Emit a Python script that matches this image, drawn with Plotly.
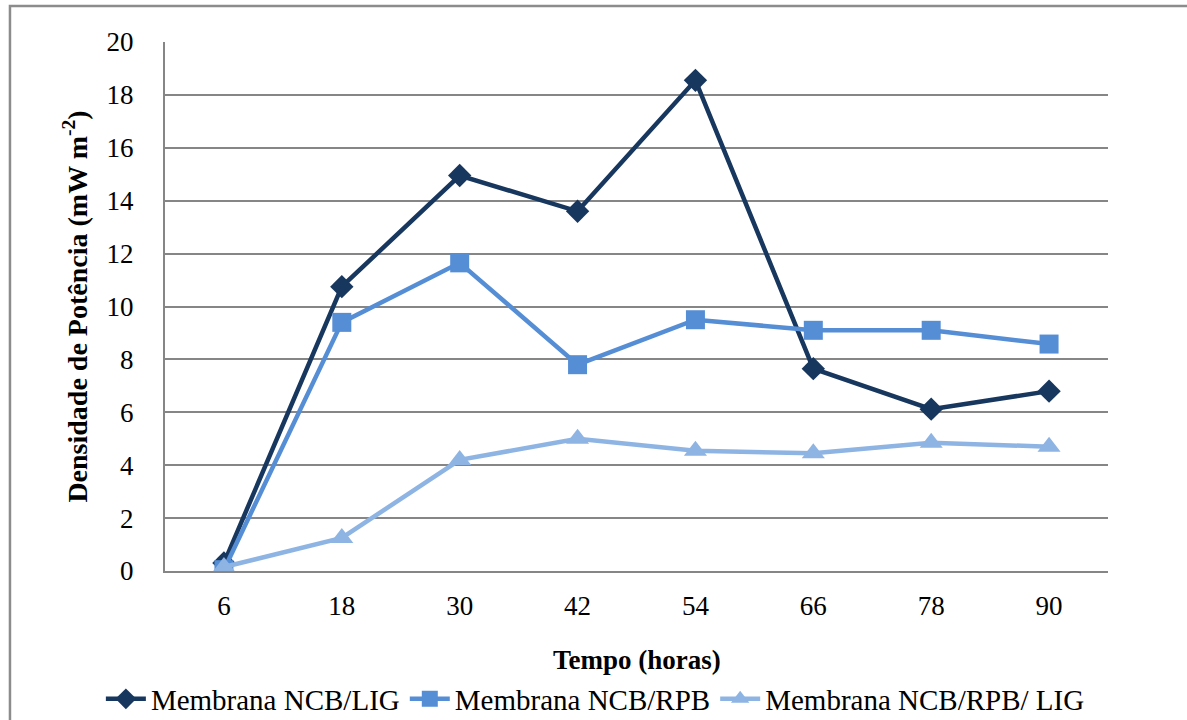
import plotly.graph_objects as go

# Sampling times (hours) and power density (mW m^-2) for each membrane
tempo = ["6", "18", "30", "42", "54", "66", "78", "90"]
ncb_lig = [0.3, 10.75, 14.95, 13.6, 18.55, 7.65, 6.12, 6.8]
ncb_rpb = [0.05, 9.4, 11.65, 7.8, 9.5, 9.1, 9.1, 8.58]
ncb_rpb_lig = [0.15, 1.25, 4.2, 5.0, 4.55, 4.45, 4.85, 4.7]

y_ticks = [0, 2, 4, 6, 8, 10, 12, 14, 16, 18, 20]

FONT = "Liberation Serif"
GRID = "#868686"

series = [
    ("Membrana NCB/LIG", ncb_lig, "#17375E", "diamond", 18),
    ("Membrana NCB/RPB", ncb_rpb, "#558ED5", "square", 19),
    ("Membrana NCB/RPB/ LIG", ncb_rpb_lig, "#8EB4E3", "triangle-up", 20),
]

fig = go.Figure()
for name, vals, color, symbol, size in series:
    fig.add_trace(go.Scatter(
        x=tempo, y=vals, name=name, mode="lines+markers",
        line=dict(color=color, width=4.5),
        marker=dict(symbol=symbol, size=size, color=color, line=dict(width=0)),
    ))

# Outer chart frame
fig.add_shape(type="rect", xref="paper", yref="paper",
              x0=-0.1644, x1=1.3, y0=1.068, y1=-0.5,
              line=dict(color="#8C8C8C", width=2.5), fillcolor="rgba(0,0,0,0)",
              layer="below")

# x-axis title
fig.add_annotation(text="<b>Tempo (horas)</b>", xref="paper", x=0.5, xanchor="center",
                   yref="paper", y=-0.168, yanchor="middle",
                   showarrow=False, font=dict(family=FONT, size=27, color="black"))

fig.update_layout(
    width=1187, height=720,
    margin=dict(l=165, r=79, t=42, b=149, autoexpand=False),
    paper_bgcolor="white", plot_bgcolor="white",
    font=dict(family=FONT, size=27, color="black"),
    showlegend=True,
    legend=dict(orientation="h", xref="paper", x=-0.068, xanchor="left",
                yref="paper", y=-0.242, yanchor="middle",
                font=dict(family=FONT, size=29, color="black"),
                traceorder="normal", itemwidth=40,
                bgcolor="rgba(0,0,0,0)"),
    xaxis=dict(
        type="category", range=[-0.5, 7.5],
        showgrid=False, showline=True, linecolor=GRID, linewidth=2,
        ticks="", ticklabelstandoff=10,
        tickfont=dict(family=FONT, size=27),
    ),
    yaxis=dict(
        range=[0, 20], tickvals=y_ticks,
        showgrid=True, gridcolor=GRID, gridwidth=2,
        showline=True, linecolor=GRID, linewidth=2, zeroline=False,
        ticks="", ticklabelstandoff=24,
        tickfont=dict(family=FONT, size=27),
        title=dict(text="<b>Densidade de Potência (mW m<sup>-2</sup>)</b>",
                   font=dict(family=FONT, size=28), standoff=11),
    ),
)

fig.write_html("out.html")
